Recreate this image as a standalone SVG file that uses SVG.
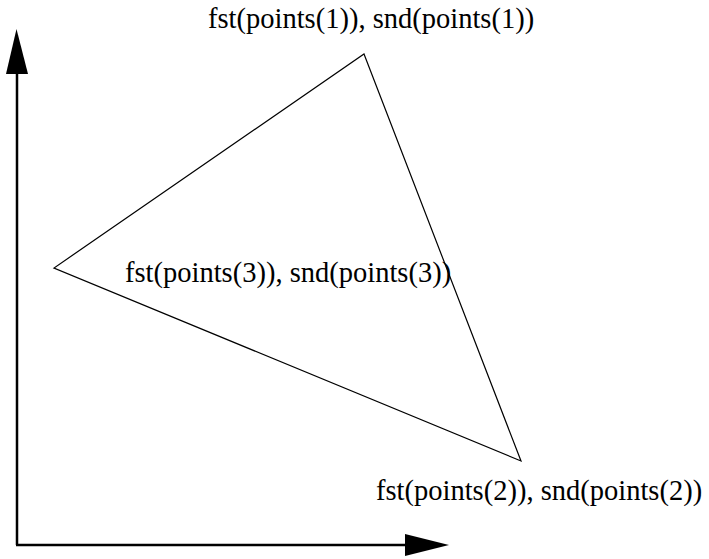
<svg xmlns="http://www.w3.org/2000/svg" width="709" height="559" viewBox="0 0 709 559">
<style>
.lbl{font-family:'Liberation Serif','Times New Roman',serif;font-size:28.5px;fill:#000}
.ln{stroke:#000;fill:none}
</style>
<rect width="709" height="559" fill="#fff"/>
<g id="axes">
<line class="ln" x1="17" y1="545" x2="17" y2="70" stroke-width="2.5"/>
<polygon points="16.5,29 6,74 28,74" fill="#000"/>
<line class="ln" x1="16" y1="545" x2="410" y2="545" stroke-width="2.5"/>
<polygon points="449,545 405,534 405,556" fill="#000"/>
</g>
<g id="triangle">
<polygon class="ln" points="364,54 521,461 54,268" stroke-width="1.2"/>
</g>
<g id="labels">
<text class="lbl" x="208" y="28">fst(points(1)), snd(points(1))</text>
<text class="lbl" x="125" y="282">fst(points(3)), snd(points(3))</text>
<text class="lbl" x="376" y="500">fst(points(2)), snd(points(2))</text>
</g>
</svg>
